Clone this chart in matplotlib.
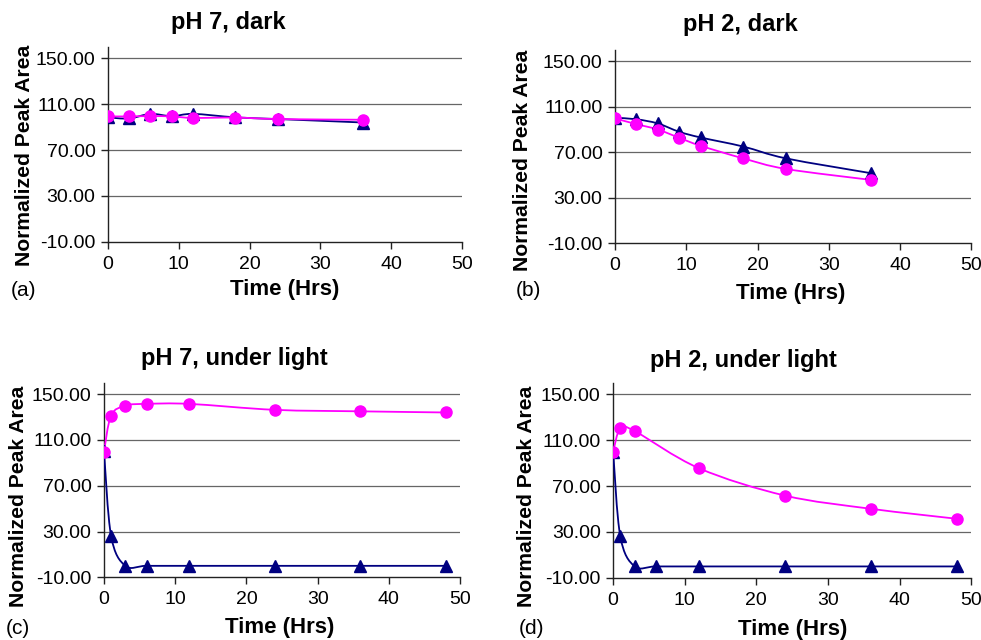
import numpy as np
import matplotlib
matplotlib.use("Agg")
import matplotlib.pyplot as plt
from matplotlib.path import Path
from matplotlib.patches import PathPatch

plt.rcParams['font.family'] = ['Liberation Sans', 'DejaVu Sans']

# ---- data ----
# (a) pH 7, dark
a_x = [0, 3, 6, 9, 12, 18, 24, 36]
a_tri = [98.5, 97.5, 101.5, 99.5, 101.5, 98.5, 97.0, 94.0]
a_circ = [99.3, 99.3, 99.6, 99.3, 98.0, 98.3, 97.0, 96.4]

# (b) pH 2, dark
b_x = [0, 3, 6, 9, 12, 18, 24, 36]
b_tri = [100.3, 99.0, 95.3, 88.0, 83.0, 75.0, 64.6, 51.5]
b_circ = [99.7, 94.7, 90.0, 82.7, 75.7, 64.6, 55.3, 45.6]

# (c) pH 7, under light
c_x = [0, 1, 3, 6, 12, 24, 36, 48]
c_tri = [100.0, 26.0, 0.0, 0.0, 0.0, 0.0, 0.0, 0.0]
c_circ = [99.7, 131.3, 140.0, 141.5, 141.5, 136.3, 135.0, 134.0]

# (d) pH 2, under light
d_tri_x = [0, 1, 3, 6, 12, 24, 36, 48]
d_tri = [100.0, 26.2, 0.1, 0.0, 0.0, 0.0, 0.0, 0.0]
d_circ_x = [0, 1, 3, 12, 24, 36, 48]
d_circ = [99.9, 120.2, 117.9, 85.5, 61.7, 50.2, 41.5]

titles = ["pH 7, dark", "pH 2, dark", "pH 7, under light", "pH 2, under light"]
panel_tags = ["(a)", "(b)", "(c)", "(d)"]
y_ticks = [-10, 30, 70, 110, 150]
x_ticks = [0, 10, 20, 30, 40, 50]

NAVY = "#000080"
MAGENTA = "#FF00FF"


def smooth_path(xs, ys):
    """Excel-like smoothed line: cubic Bezier through every point."""
    pts = np.column_stack([xs, ys]).astype(float)
    n = len(pts)
    verts = [pts[0]]
    codes = [Path.MOVETO]
    for i in range(n - 1):
        p0 = pts[max(i - 1, 0)]
        p1 = pts[i]
        p2 = pts[i + 1]
        p3 = pts[min(i + 2, n - 1)]
        c1 = p1 + (p2 - p0) / 6.0
        c2 = p2 - (p3 - p1) / 6.0
        verts += [c1, c2, p2]
        codes += [Path.CURVE4] * 3
    return Path(verts, codes)


def draw_series(ax, xs, ys, color, marker, ms):
    ax.add_patch(PathPatch(smooth_path(xs, ys), facecolor="none",
                           edgecolor=color, lw=1.3, zorder=3))
    ax.plot(xs, ys, linestyle="none", marker=marker, color=color,
            markersize=ms, zorder=4)


fig = plt.figure(figsize=(9.81, 6.40), dpi=100)

# axes boxes in figure fractions
boxes = [
    [0.110, 0.622, 0.361, 0.305],
    [0.627, 0.620, 0.363, 0.302],
    [0.106, 0.098, 0.363, 0.304],
    [0.625, 0.097, 0.365, 0.305],
]
title_pos = [(228, 22), (740, 25), (234, 358), (743, 361)]
ylab_pos = [(25, 155), (522, 160), (19, 496), (527, 496)]
xlab_pos = [(285, 290), (791, 293), (280, 628), (793, 629)]
tag_pos = [(23, 290), (528, 290), (18, 628), (532, 628)]

series = [
    ((a_x, a_tri), (a_x, a_circ)),
    ((b_x, b_tri), (b_x, b_circ)),
    ((c_x, c_tri), (c_x, c_circ)),
    ((d_tri_x, d_tri), (d_circ_x, d_circ)),
]

W, H = 981.0, 640.0
for i, box in enumerate(boxes):
    ax = fig.add_axes(box)
    ax.set_xlim(0, 50)
    ax.set_ylim(-10, 160)
    ax.set_yticks(y_ticks)
    ax.set_yticklabels([f"{v:.2f}" for v in y_ticks])
    ax.set_xticks(x_ticks)
    for s in ["top", "right"]:
        ax.spines[s].set_visible(False)
    for s in ["left", "bottom"]:
        ax.spines[s].set_color("#222222")
        ax.spines[s].set_linewidth(1.0)
    ax.tick_params(axis="both", direction="out", length=5, width=1.0,
                   color="#222222", labelsize=14, pad=4)
    ax.tick_params(axis="x", pad=5)
    for v in y_ticks[1:]:
        ax.axhline(v, color="#666666", lw=0.9, zorder=1)
    ax.set_axisbelow(True)

    (tx, ty), (cx, cy) = series[i]
    draw_series(ax, tx, ty, NAVY, "^", 8)
    draw_series(ax, cx, cy, MAGENTA, "o", 8)

    fig.text(title_pos[i][0] / W, 1 - title_pos[i][1] / H, titles[i],
             ha="center", va="center", fontsize=17, fontweight="bold")
    fig.text(ylab_pos[i][0] / W, 1 - ylab_pos[i][1] / H, "Normalized Peak Area",
             ha="center", va="center", rotation=90, fontsize=15.2,
             fontweight="bold")
    fig.text(xlab_pos[i][0] / W, 1 - xlab_pos[i][1] / H, "Time (Hrs)",
             ha="center", va="center", fontsize=16, fontweight="bold")
    fig.text(tag_pos[i][0] / W, 1 - tag_pos[i][1] / H, panel_tags[i],
             ha="center", va="center", fontsize=15)

fig.savefig("out.png", dpi=100, facecolor="white")
